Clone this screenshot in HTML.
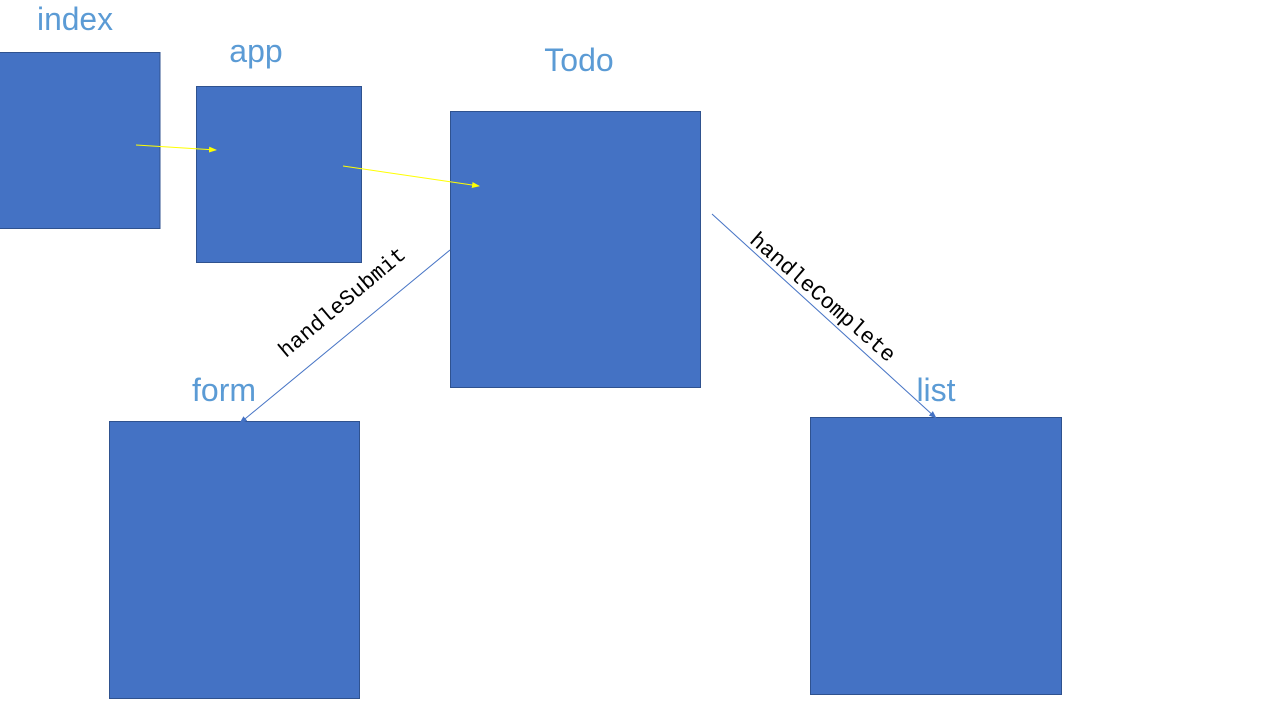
<!DOCTYPE html>
<html><head><meta charset="utf-8"><style>
html,body{margin:0;padding:0;background:#fff;width:1280px;height:720px;overflow:hidden}
svg{display:block}
</style></head><body>
<svg width="1280" height="720" xmlns="http://www.w3.org/2000/svg">
<defs>
<marker id="ay" markerWidth="8" markerHeight="8" refX="7" refY="4" orient="auto" markerUnits="userSpaceOnUse"><path d="M0,1 L8,4 L0,7 z" fill="#FFFF00"/></marker>
<marker id="ab" markerWidth="8" markerHeight="8" refX="7" refY="4" orient="auto" markerUnits="userSpaceOnUse"><path d="M0,1 L8,4 L0,7 z" fill="#4472C4"/></marker>
</defs>
<g fill="#4472C4" stroke="#2F528F" stroke-width="1">
<rect x="-1" y="52.5" width="161" height="176"/>
<rect x="196.5" y="86.5" width="165" height="176"/>
<rect x="450.5" y="111.5" width="250" height="276"/>
<rect x="109.5" y="421.5" width="250" height="277"/>
<rect x="810.5" y="417.5" width="251" height="277"/>
</g>
<g font-family="Liberation Sans, sans-serif" font-size="32" fill="#5B9BD5" text-anchor="middle">
<text x="75" y="30" textLength="76" lengthAdjust="spacingAndGlyphs">index</text>
<text x="256" y="62">app</text>
<text x="579" y="71">Todo</text>
<text x="224" y="401">form</text>
<text x="936" y="401">list</text>
</g>
<line x1="136" y1="145" x2="216" y2="150" stroke="#FFFF00" stroke-width="1" marker-end="url(#ay)"/>
<line x1="343" y1="166" x2="479" y2="186" stroke="#FFFF00" stroke-width="1" marker-end="url(#ay)"/>
<line x1="450" y1="250" x2="240" y2="423" stroke="#4472C4" stroke-width="1" marker-end="url(#ab)"/>
<line x1="712" y1="214" x2="936" y2="418" stroke="#4472C4" stroke-width="1" marker-end="url(#ab)"/>
<g font-family="Liberation Mono, monospace" font-size="22" fill="#000" text-anchor="middle">
<text transform="translate(342,302) rotate(-40)" y="7">handleSubmit</text>
<text transform="translate(823,297) rotate(41)" y="7">handleComplete</text>
</g>
</svg>
</body></html>
